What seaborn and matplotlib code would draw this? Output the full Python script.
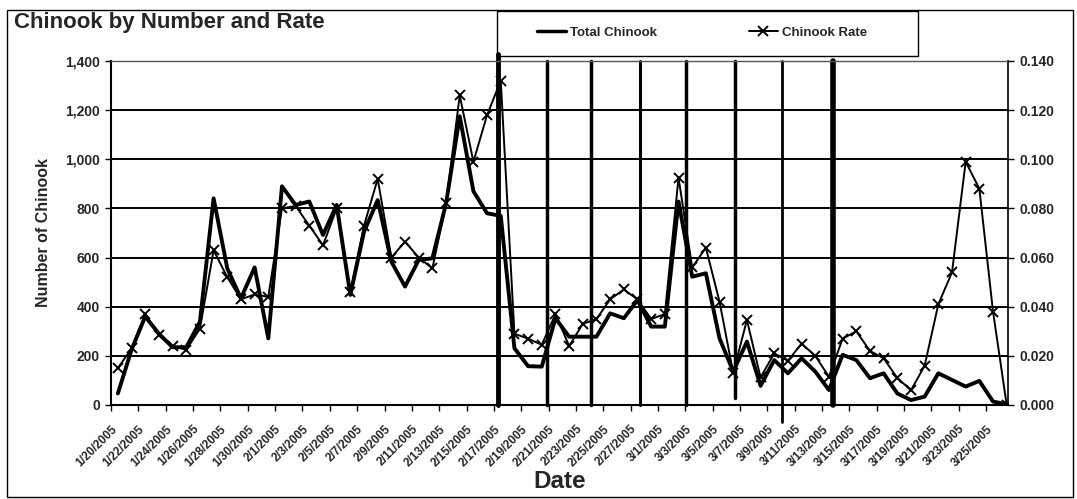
import matplotlib.pyplot as plt
import matplotlib.ticker as mticker
import numpy as np
import pandas as pd
import seaborn as sns
from matplotlib.lines import Line2D
from matplotlib.patches import Rectangle

# daily sampling dates (category axis)
dates = pd.date_range('2005-01-20', '2005-03-26', freq='D')

total_chinook = [
    47, 225, 360, 290, 235, 235, 339, 841, 556, 434,
    560, 271, 890, 814, 828, 692, 814, 448, 705, 834,
    583, 482, 590, 597, 820, 1175, 870, 780, 770, 231,
    158, 156, 353, 278, 278, 278, 373, 353, 427, 319,
    319, 828, 522, 536, 271, 136, 258, 78, 183, 129,
    190, 136, 61, 204, 183, 109, 129, 47, 20, 34,
    129, 102, 75, 98, 14, 3,
]
chinook_rate = [
    0.015, 0.023, 0.037, 0.0285, 0.024, 0.0225, 0.031, 0.063, 0.052, 0.043,
    0.045, 0.044, 0.080, 0.081, 0.073, 0.065, 0.080, 0.046, 0.073, 0.092,
    0.060, 0.0665, 0.060, 0.0556, 0.082, 0.126, 0.099, 0.118, 0.132, 0.029,
    0.027, 0.0245, 0.037, 0.024, 0.033, 0.035, 0.043, 0.047, 0.043, 0.035,
    0.037, 0.0925, 0.056, 0.064, 0.042, 0.013, 0.0346, 0.0112, 0.021, 0.018,
    0.025, 0.020, 0.0115, 0.027, 0.030, 0.022, 0.019, 0.011, 0.006, 0.016,
    0.041, 0.054, 0.099, 0.088, 0.038, 0.0,
]
# hand-drawn event markers, in days after 1/20/2005
event_days = [27.8, 31.4, 34.6, 38.2, 41.55, 45.1, 48.6, 52.3]

df = pd.DataFrame({
    'day': np.arange(len(dates)),
    'total': total_chinook,
    'rate': chinook_rate,
})

sns.set_style('white')
plt.rcParams['font.family'] = ['Liberation Sans', 'DejaVu Sans']
plt.rcParams['font.weight'] = 'bold'

fig = plt.figure(figsize=(10.77, 4.99), dpi=100)
ax = fig.add_axes([0.1031, 0.1884, 0.8329, 0.6894])

sns.lineplot(data=df, x='day', y='total', ax=ax, color='black', lw=2.8,
             zorder=4, legend=False)
ax.set_xlim(-0.5, 65.1)
ax.set_ylim(0, 1400)
ax.yaxis.set_major_locator(mticker.MultipleLocator(200))
ax.yaxis.set_major_formatter(mticker.StrMethodFormatter('{x:,.0f}'))
ax.yaxis.grid(True, color='black', lw=1.4)
ax.set_axisbelow(True)
ax.get_ygridlines()[-1].set_visible(False)

# event lines
widths = [3.5, 2.5, 2.5, 2.2, 2.5, 2.5, 2.0, 4.0]
spans = [(0, 1.02), (0, 1), (0, 1), (0, 1), (0, 1), (0.02, 1), (-0.05, 1), (0, 1)]
for d, w, (y0, y1) in zip(event_days, widths, spans):
    ax.axvline(d, ymin=y0, ymax=y1, color='black', lw=w, zorder=5,
               clip_on=False)

ax2 = ax.twinx()
sns.lineplot(data=df, x='day', y='rate', ax=ax2, color='black', lw=1.4,
             marker='x', markersize=7, markeredgewidth=1.4,
             markeredgecolor='black', zorder=3, legend=False)
ax2.set_ylim(0, 0.14)
ax2.yaxis.set_major_locator(mticker.MultipleLocator(0.02))
ax2.yaxis.set_major_formatter(mticker.StrMethodFormatter('{x:.3f}'))
ax2.set_ylabel('')

# x ticks every two days, on category boundaries
tick_idx = np.arange(0, len(dates), 2)
tick_idx = tick_idx[tick_idx <= 64]
ax.set_xticks(tick_idx - 0.5)
ax.set_xticklabels([f'{d.month}/{d.day}/{d.year}' for d in dates[tick_idx]],
                   rotation=45, ha='right', va='top', rotation_mode='anchor',
                   fontsize=8.5, fontweight='bold')

for a in (ax, ax2):
    for s in a.spines.values():
        s.set_visible(False)
ax.spines['left'].set_visible(True)
ax.spines['bottom'].set_visible(True)
ax.spines['left'].set_color('black')
ax.spines['bottom'].set_color('black')
ax.spines['left'].set_linewidth(1.5)
ax.spines['bottom'].set_linewidth(1.5)
ax2.spines['right'].set_visible(True)
ax2.spines['right'].set_color('black')
ax2.spines['right'].set_linewidth(1.2)
ax2.spines['top'].set_visible(True)
ax2.spines['top'].set_color('#555555')
ax2.spines['top'].set_linestyle((0, (1, 1)))
ax2.spines['top'].set_linewidth(1.0)

ax.tick_params(axis='y', direction='out', length=4, width=1, color='black',
               labelsize=10, pad=4, left=True)
ax.tick_params(axis='x', direction='out', length=4, width=1, color='black',
               pad=9, bottom=True)
ax2.tick_params(axis='y', direction='out', length=4, width=1, color='black',
                labelsize=10, pad=4, right=True)
for lab in ax.get_yticklabels() + ax2.get_yticklabels():
    lab.set_fontweight('bold')

ax.set_ylabel('Number of Chinook', fontsize=11.5, fontweight='bold',
              labelpad=10)
ax.set_xlabel('Date', fontsize=17.5, fontweight='bold', labelpad=1)

fig.text(0.013, 0.955, 'Chinook by Number and Rate', fontsize=16,
         fontweight='bold', va='center', ha='left')

# legend box drawn by hand, entries spread inside it
fig.patches.append(Rectangle((497 / 1077, 1 - 56 / 499), 421 / 1077, 45 / 499,
                             transform=fig.transFigure, fill=False,
                             edgecolor='black', lw=1.0, zorder=10))
handles = [
    Line2D([], [], color='black', lw=2.5),
    Line2D([], [], color='black', lw=1.4, marker='x', markersize=7,
           markeredgewidth=1.4),
]
leg = fig.legend(handles, ['Total Chinook', 'Chinook Rate'], ncol=2,
                 loc='center',
                 bbox_to_anchor=(537 / 1077, 1 - 50 / 499, 330 / 1077, 34 / 499),
                 mode='expand', frameon=False, borderpad=0, borderaxespad=0,
                 handlelength=2.2, handletextpad=0.3,
                 prop={'weight': 'bold', 'size': 9.5})

fig.patches.append(Rectangle((7 / 1077, 2 / 499), 1066 / 1077, 487 / 499,
                             transform=fig.transFigure, fill=False,
                             edgecolor='black', lw=1.0))

fig.savefig('out.png', dpi=100)
